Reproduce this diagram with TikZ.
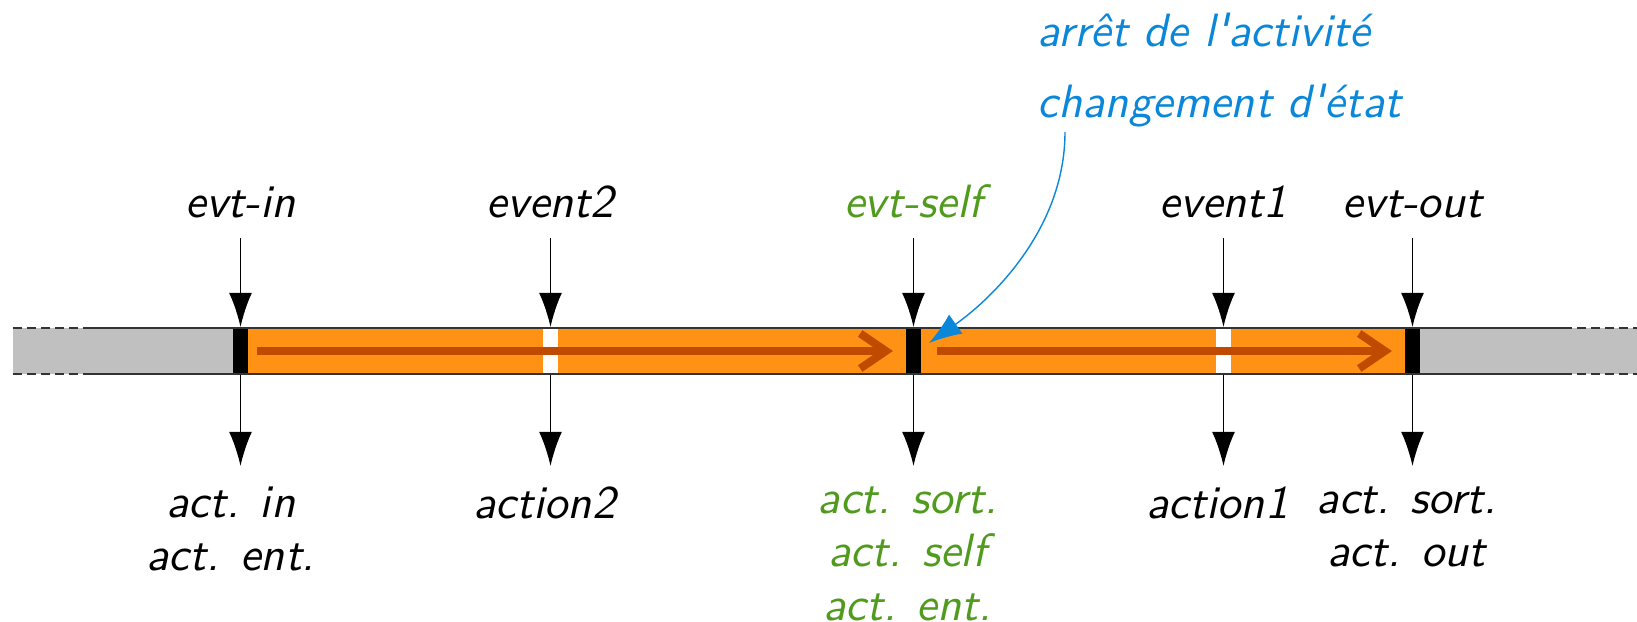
\documentclass[tikz,border=0pt]{standalone}
\usetikzlibrary{arrows.meta,positioning}

\definecolor{activeorange}{RGB}{255,146,20}
\definecolor{flowbrown}{RGB}{192,75,0}
\definecolor{idlegray}{RGB}{192,192,192}
\definecolor{selfgreen}{RGB}{80,155,30}
\definecolor{noteblue}{RGB}{10,135,217}

\tikzset{
  lbl/.style={font=\sffamily\itshape\fontsize{10pt}{11.4pt}\selectfont,align=center},
  toplbl/.style={lbl,inner ysep=4.1pt},
  botlbl/.style={lbl,inner ysep=4.3pt,xshift=-1.3pt},
  stopmark/.style={fill=black,inner sep=0pt,minimum width=3.2pt,minimum height=9.85pt},
  passmark/.style={stopmark,fill=white},
  evtarrow/.style={-{Latex[length=7.3pt,width=4.9pt]}},
  flow/.style={flowbrown,line width=1.7pt,-{Straight Barb[length=5.5pt,width=7.5pt]}},
  barline/.style={black!80,line width=0.4pt},
}

\begin{document}
\begin{tikzpicture}[x=0.2141pt,y=-0.2141pt]
\useasboundingbox (0,0) rectangle (1637,622);
% the bar
\fill[idlegray] (13,328) rectangle (233,374);
\fill[idlegray] (1420,328) rectangle (1637,374);
\fill[activeorange] (233,328) rectangle (1420,374);
\node[stopmark] (m1) at (240.5,351) {};
\node[passmark] (m2) at (550.5,351) {};
\node[stopmark] (m3) at (913.5,351) {};
\node[passmark] (m4) at (1223.5,351) {};
\node[stopmark] (m5) at (1412.5,351) {};
\draw[barline] (88,328)--(1563,328) (88,374)--(1563,374);
\draw[barline,dash pattern=on 2pt off 1pt] (13,328)--(88,328) (13,374)--(88,374) (1563,328)--(1637,328) (1563,374)--(1637,374);
\draw[flow,shorten <=1.7pt,shorten >=2.6pt] (m1)--(m3);
\draw[flow,shorten <=3.2pt,shorten >=2.6pt] (m3)--(m5);
% events
\node[toplbl,above=19.1pt of m1] (t1) {evt-in};
\node[toplbl,above=19.1pt of m2] (t2) {event2};
\node[toplbl,above=19.1pt of m3,selfgreen] (t3) {evt-self};
\node[toplbl,above=19.1pt of m4] (t4) {event1};
\node[toplbl,above=19.1pt of m5] (t5) {evt-out};
\foreach \i in {1,...,5}{\draw[evtarrow] (t\i)--(m\i);}
% actions
\node[botlbl,below=19.5pt of m1,xshift=-0.8pt] (b1) {act. in\\act. ent.};
\node[botlbl,below=19.5pt of m2] (b2) {action2};
\node[botlbl,below=19.5pt of m3,selfgreen] (b3) {act. sort.\\act. self\\act. ent.};
\node[botlbl,below=19.5pt of m4] (b4) {action1};
\node[botlbl,below=19.5pt of m5] (b5) {act. sort.\\act. out};
\foreach \i in {1,...,5}{\draw[evtarrow] (m\i)--(b\i.north -| m\i);}
% note
\node[lbl,noteblue,align=left,anchor=base west,font=\sffamily\itshape\fontsize{10pt}{15.1pt}\selectfont] (note) at (1021,117) {arrêt de l\textquotesingle activité\\changement d\textquotesingle état};
\coordinate (notefoot) at (1065,132);
\coordinate (stop) at (929,343);
\draw[noteblue,line width=0.3pt,-{Latex[length=7pt,width=5pt]}] (notefoot) .. controls (1065,230) and (990,300) .. (stop);
\end{tikzpicture}
\end{document}
